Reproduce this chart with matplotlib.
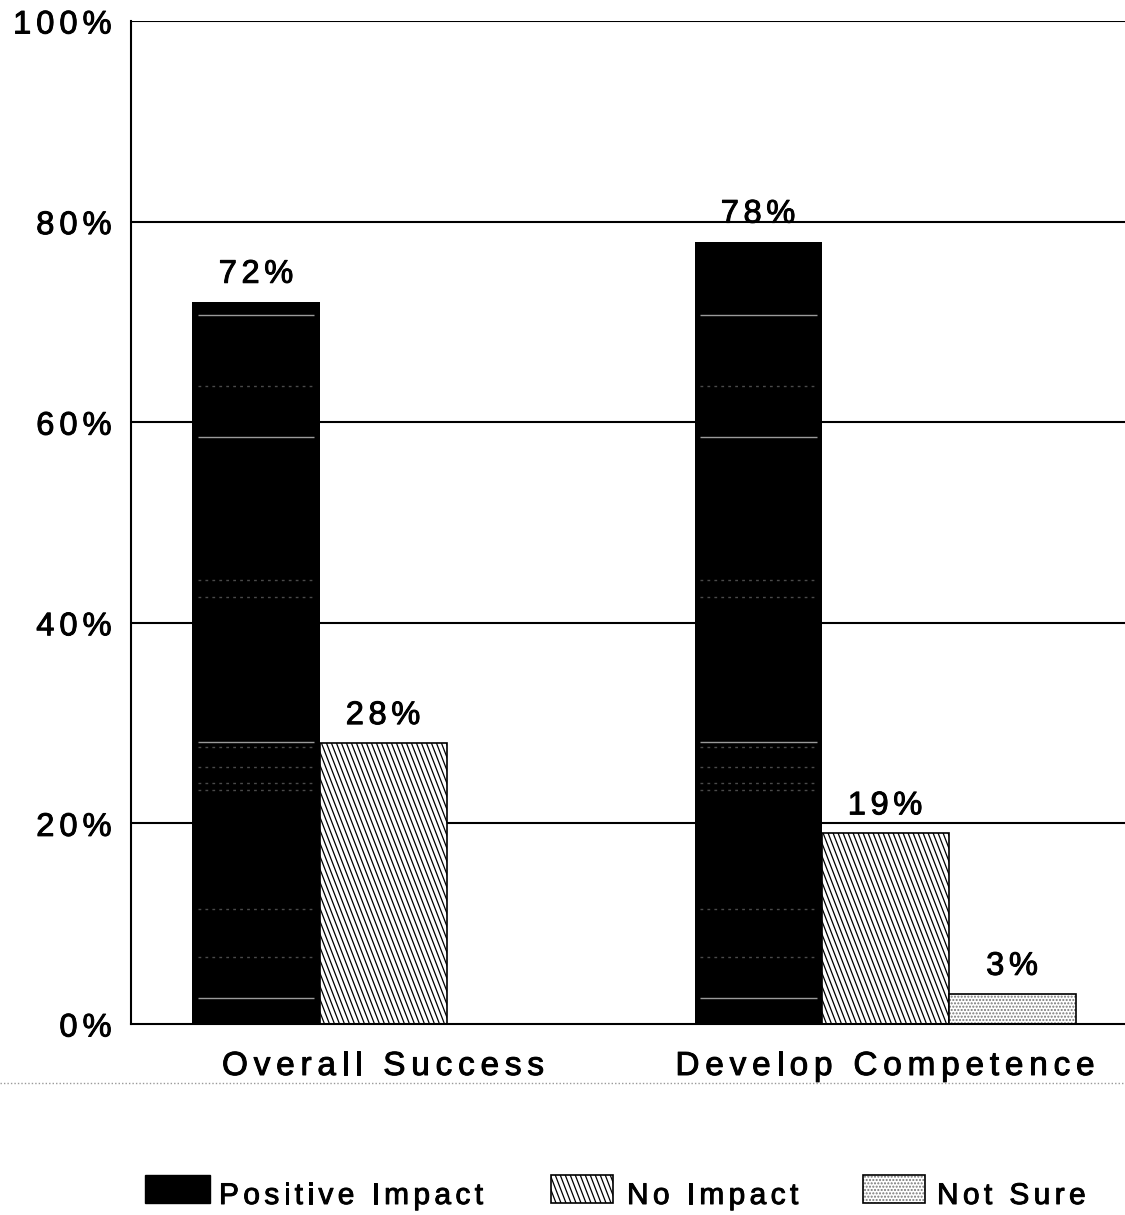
import numpy as np
import matplotlib.pyplot as plt
import matplotlib.patheffects as pe
from matplotlib.patches import Rectangle
from matplotlib.transforms import IdentityTransform, offset_copy
from matplotlib.font_manager import FontProperties, findfont, get_font
from matplotlib.ft2font import LOAD_NO_HINTING

plt.rcParams['font.family'] = ['Liberation Sans', 'DejaVu Sans']

categories = ['Overall Success', 'Develop Competence']
series = ['Positive Impact', 'No Impact', 'Not Sure']
positive = [72, 78]
no_impact = [28, 19]
not_sure = [None, 3]
yticks = [0, 20, 40, 60, 80, 100]

W, H = 1125, 1215
fig = plt.figure(figsize=(W / 100, H / 100), dpi=100)
FONT = get_font(findfont(FontProperties(family='Liberation Sans')))
heavy = [pe.withStroke(linewidth=0.7, foreground='black')]


def fx(x, y):
    # pixel position (from top-left) to figure fraction
    return x / W, 1 - y / H


def spaced_text(x, y, s, size, track, ha='left', transform=None, **kw):
    # letter-spaced text: one glyph at a time, track is extra gap in pixels
    FONT.set_size(size, 72)
    adv = []
    for c in s:
        g = FONT.load_char(ord(c), flags=LOAD_NO_HINTING)
        adv.append(g.linearHoriAdvance / 65536)
    gap = track * 0.72
    total = sum(adv) + gap * (len(s) - 1)
    off = {'left': 0, 'center': -total / 2, 'right': -total}[ha]
    transform = transform or fig.transFigure
    for c, a in zip(s, adv):
        tr = offset_copy(transform, fig=fig, x=off, y=0, units='points')
        fig.text(x, y, c, fontsize=size, ha='left', va='baseline',
                 transform=tr, path_effects=heavy, **kw)
        off += a + gap


def steep_hatch(patch, step=5, slope=2.6):
    # dense steep diagonal lines clipped to a patch
    fig.canvas.draw()
    bb = patch.get_window_extent()
    h = bb.height
    x0 = bb.x0 - h / slope - step
    while x0 < bb.x1 + step:
        ln = plt.Line2D([x0, x0 + h / slope], [bb.y1, bb.y0], color='black',
                        linewidth=0.9, transform=IdentityTransform(), zorder=4)
        ln.set_clip_path(patch)
        fig.add_artist(ln)
        x0 += step


l, t = fx(131, 21)
r, b = fx(1125, 1024)
ax = fig.add_axes([l, b, r - l, t - b])

x = np.arange(len(categories))
w = 0.253
hatched = []
solid = []

for i, vals in enumerate([positive, no_impact, not_sure]):
    for j, v in enumerate(vals):
        if v is None:
            continue
        xpos = x[j] + (i - 1) * w
        if i == 0:
            bar = ax.bar(xpos, v, width=w, color='black', linewidth=1.2, zorder=3)
            solid.append(bar[0])
        elif i == 1:
            bar = ax.bar(xpos, v, width=w, facecolor='white', edgecolor='black',
                         linewidth=1.2, zorder=3)
            hatched.append(bar[0])
        else:
            ax.bar(xpos, v, width=w, facecolor='white', edgecolor='#777777',
                   hatch='.....', linewidth=0, zorder=3)
            ax.bar(xpos, v, width=w, facecolor='none', edgecolor='black',
                   linewidth=1.2, zorder=4)
        spaced_text(xpos, v + 1.9, f'{v}%', 23.5, 4.6, ha='center',
                    transform=ax.transData, zorder=5)

ax.set_xlim(-0.502, 1.478)
ax.set_ylim(0, 100)
ax.set_yticks(yticks)
ax.set_yticklabels([])
ax.tick_params(axis='y', length=0)
ax.set_xticks([])
for tk in yticks[1:]:
    ax.axhline(tk, color='black', linewidth=1.5, zorder=1)
for s in ['top', 'right']:
    ax.spines[s].set_visible(False)
ax.spines['left'].set_linewidth(1.5)
ax.spines['bottom'].set_linewidth(1.5)
ax.spines['bottom'].set_zorder(6)

# y tick labels, right aligned a little left of the axis
ytr = offset_copy(ax.get_yaxis_transform(), fig=fig, x=-14, y=-9, units='points')
for tk in yticks:
    spaced_text(0, tk, f'{tk}%', 23.5, 5, ha='right', transform=ytr)

# faint scanner streaks across the solid bars
streaks = [70.7, 63.6, 58.5, 44.3, 42.6, 28.1, 27.6, 25.6, 24.0, 23.3, 11.5, 6.7, 2.6]
for bar in solid:
    x0, x1 = bar.get_x(), bar.get_x() + bar.get_width()
    for k, sv in enumerate(streaks):
        if sv < bar.get_height():
            strong = k in (0, 2, 5, 12)
            ax.hlines(sv, x0 + 0.01, x1 - 0.01, color='#9a9a9a' if strong else '#4a4a4a',
                      linewidth=1.0, linestyles='-' if strong else (0, (2, 3)), zorder=3.5)

for j, c in enumerate(categories):
    spaced_text(*fx([383, 885][j], 1075), c, 24, 5.8, ha='center')

fig.add_artist(plt.Line2D([0, 1], [1 - 1083 / H] * 2, color='#999999',
                          linewidth=1, linestyle=(0, (1, 1.5))))

# legend drawn by hand: swatch boxes and letter-spaced labels
boxes = [(145, 210), (551, 613), (863, 925)]
text_x = [219, 627, 937]
for k, (bx0, bx1) in enumerate(boxes):
    lx, ly = fx(bx0, 1203)
    rw = (bx1 - bx0) / W
    rh = 28 / H
    if k == 0:
        rect = Rectangle((lx, ly), rw, rh, transform=fig.transFigure,
                         facecolor='black', edgecolor='black', linewidth=1)
    elif k == 1:
        rect = Rectangle((lx, ly), rw, rh, transform=fig.transFigure,
                         facecolor='white', edgecolor='black', linewidth=1.2)
    else:
        rect = Rectangle((lx, ly), rw, rh, transform=fig.transFigure,
                         facecolor='white', edgecolor='#777777', hatch='.....',
                         linewidth=0)
        fig.add_artist(Rectangle((lx, ly), rw, rh, transform=fig.transFigure,
                                 facecolor='none', edgecolor='black', linewidth=1.2,
                                 zorder=3))
    fig.add_artist(rect)
    if k == 1:
        hatched.append(rect)
    spaced_text(*fx(text_x[k], 1204), series[k], 21.5, 4.4)

for p in hatched:
    steep_hatch(p)

fig.savefig('out.png', dpi=100)
